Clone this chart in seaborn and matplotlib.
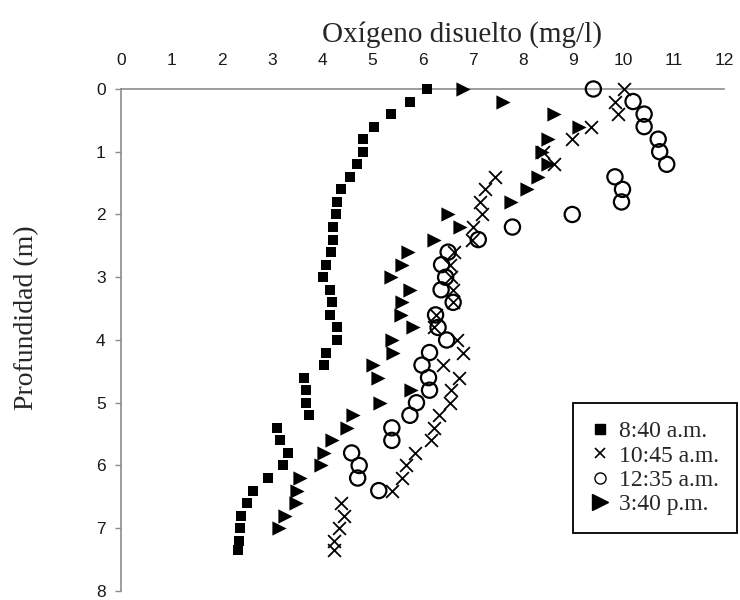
import numpy as np
import pandas as pd
import matplotlib
matplotlib.use("Agg")
import matplotlib.pyplot as plt
import seaborn as sns
from matplotlib.lines import Line2D

# ---------------------------------------------------------------
# Datos: profundidad (m) y oxigeno disuelto (mg/l)
# ---------------------------------------------------------------
prof_0840 = [0, 0.2, 0.4, 0.6, 0.8, 1.0, 1.2, 1.4, 1.6, 1.8, 2.0, 2.2, 2.4, 2.6,
             2.8, 3.0, 3.2, 3.4, 3.6, 3.8, 4.0, 4.2, 4.4, 4.6, 4.8, 5.0, 5.2,
             5.4, 5.6, 5.8, 6.0, 6.2, 6.4, 6.6, 6.8, 7.0, 7.2, 7.35]
od_0840 = [6.08, 5.75, 5.37, 5.03, 4.81, 4.81, 4.70, 4.56, 4.38, 4.29, 4.27,
           4.21, 4.21, 4.17, 4.08, 4.01, 4.16, 4.19, 4.16, 4.30, 4.30, 4.08,
           4.03, 3.65, 3.69, 3.69, 3.75, 3.10, 3.16, 3.32, 3.22, 2.93, 2.62,
           2.50, 2.38, 2.37, 2.35, 2.33]

prof_1045 = [0, 0.2, 0.4, 0.6, 0.8, 1.0, 1.2, 1.4, 1.6, 1.8, 2.0, 2.2, 2.4, 2.6,
             2.8, 3.0, 3.2, 3.4, 3.6, 3.8, 4.0, 4.2, 4.4, 4.6, 4.8, 5.0, 5.2,
             5.4, 5.6, 5.8, 6.0, 6.2, 6.4, 6.6, 6.8, 7.0, 7.2, 7.35]
od_1045 = [10.0, 9.83, 9.90, 9.35, 8.98, 8.40, 8.62, 7.44, 7.24, 7.14, 7.18,
           7.01, 6.98, 6.63, 6.55, 6.57, 6.61, 6.61, 6.27, 6.22, 6.68, 6.80,
           6.40, 6.72, 6.57, 6.55, 6.32, 6.22, 6.17, 5.85, 5.68, 5.60, 5.39,
           4.37, 4.44, 4.34, 4.24, 4.24]

prof_1235 = [0, 0.2, 0.4, 0.6, 0.8, 1.0, 1.2, 1.4, 1.6, 1.8, 2.0, 2.2, 2.4, 2.6,
             2.8, 3.0, 3.2, 3.4, 3.6, 3.8, 4.0, 4.2, 4.4, 4.6, 4.8, 5.0, 5.2,
             5.4, 5.6, 5.8, 6.0, 6.2, 6.4]
od_1235 = [9.40, 10.19, 10.41, 10.41, 10.69, 10.72, 10.86, 9.83, 9.98, 9.96,
           8.98, 7.79, 7.11, 6.51, 6.38, 6.46, 6.37, 6.61, 6.26, 6.31, 6.48,
           6.14, 5.99, 6.12, 6.14, 5.88, 5.75, 5.39, 5.39, 4.59, 4.74, 4.71,
           5.13]

prof_1540 = [0, 0.2, 0.4, 0.6, 0.8, 1.0, 1.2, 1.4, 1.6, 1.8, 2.0, 2.2, 2.4, 2.6,
             2.8, 3.0, 3.2, 3.4, 3.6, 3.8, 4.0, 4.2, 4.4, 4.6, 4.8, 5.0, 5.2,
             5.4, 5.6, 5.8, 6.0, 6.2, 6.4, 6.6, 6.8, 7.0]
od_1540 = [6.81, 7.61, 8.62, 9.11, 8.50, 8.37, 8.50, 8.29, 8.07, 7.77, 6.50,
           6.75, 6.22, 5.72, 5.60, 5.37, 5.75, 5.59, 5.58, 5.82, 5.39, 5.42,
           5.01, 5.12, 5.78, 5.15, 4.61, 4.49, 4.19, 4.04, 3.99, 3.56, 3.51,
           3.48, 3.26, 3.15]

etiquetas = ["8:40 a.m.", "10:45 a.m.", "12:35 a.m.", "3:40 p.m."]

df_0840 = pd.DataFrame({"od": od_0840, "prof": prof_0840})
df_1045 = pd.DataFrame({"od": od_1045, "prof": prof_1045})
df_1235 = pd.DataFrame({"od": od_1235, "prof": prof_1235})
df_1540 = pd.DataFrame({"od": od_1540, "prof": prof_1540})

sns.set_style("ticks")
plt.rcParams["font.family"] = ["Liberation Sans", "DejaVu Sans"]

fig = plt.figure(figsize=(7.4, 6.0), dpi=100)
ax = fig.add_axes([0.1635, 0.015, 0.8149, 0.8367])

gris = "#8c8c8c"

sns.scatterplot(data=df_0840, x="od", y="prof", marker="s", s=58, color="black",
                linewidth=0, ax=ax, clip_on=False, zorder=3)
sns.scatterplot(data=df_1045, x="od", y="prof", marker="x", s=85, color="black",
                linewidth=1.3, ax=ax, clip_on=False, zorder=3)
sns.scatterplot(data=df_1235, x="od", y="prof", marker="o", s=120, color="none",
                edgecolor="black", linewidth=1.6, ax=ax, clip_on=False, zorder=3)
sns.scatterplot(data=df_1540, x="od", y="prof", marker=">", s=105, color="black",
                linewidth=0, ax=ax, clip_on=False, zorder=3)

ax.set_xlim(0, 12)
ax.set_ylim(8, 0)
ax.set_xticks(range(0, 13))
ax.set_yticks(range(0, 9))
ax.xaxis.tick_top()
ax.xaxis.set_label_position("top")

sns.despine(ax=ax, top=False, right=True, bottom=True, left=False)
for lado in ["top", "left"]:
    ax.spines[lado].set_color(gris)
    ax.spines[lado].set_linewidth(1.2)
    ax.spines[lado].set_zorder(1)

ax.tick_params(axis="x", direction="out", length=5, width=1, color=gris,
               pad=10, labelsize=12.5, labelcolor="#1a1a1a")
ax.tick_params(axis="y", direction="out", length=4, width=1, color=gris,
               pad=7, labelsize=12.5, labelcolor="#1a1a1a")

ax.set_xlabel("Oxígeno disuelto (mg/l)", family=["Liberation Serif"], fontsize=21)
ax.xaxis.set_label_coords(0.566, 1.095)
ax.set_ylabel("Profundidad (m)", family=["Liberation Serif"], fontsize=20)
ax.yaxis.set_label_coords(-0.136, 0.545)

manejadores = [
    Line2D([], [], ls="", marker="s", color="black", markersize=7),
    Line2D([], [], ls="", marker="x", color="black", markersize=7, mew=1.2),
    Line2D([], [], ls="", marker="o", color="black", markersize=8,
           markerfacecolor="none", mew=1),
    Line2D([], [], ls="", marker=">", color="black", markersize=11),
]
leyenda = ax.legend(manejadores, etiquetas, loc="upper right",
                    bbox_to_anchor=(737 / 740, 1 - 403 / 600),
                    bbox_transform=fig.transFigure, frameon=True, fancybox=False,
                    edgecolor="black", framealpha=1, borderaxespad=0,
                    prop={"family": "Liberation Serif", "size": 17},
                    handlelength=0.8, handletextpad=0.4, labelspacing=0.12,
                    borderpad=0.75)
leyenda.get_frame().set_linewidth(1.3)

fig.savefig("out.png", dpi=100)
